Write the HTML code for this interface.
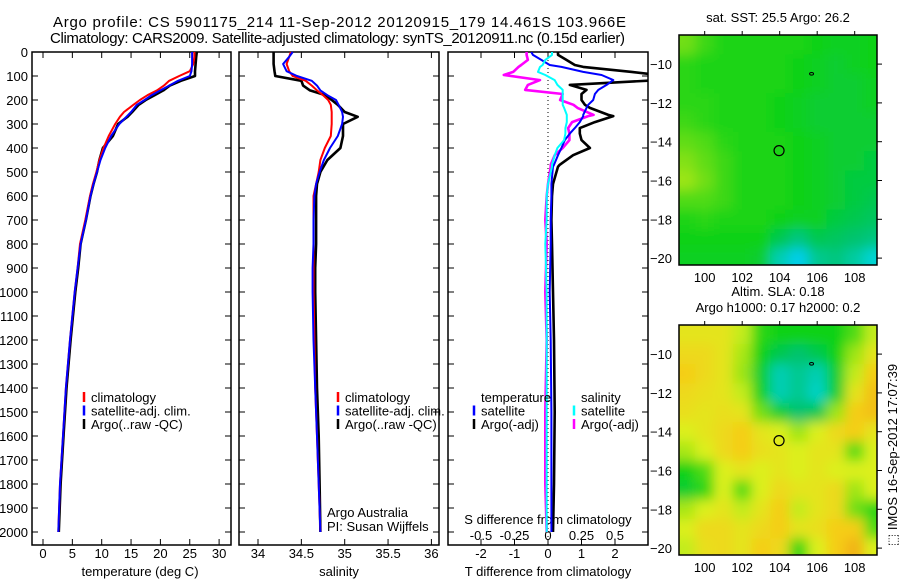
<!DOCTYPE html>
<html><head><meta charset="utf-8"><style>
html,body{margin:0;padding:0;background:#fff;}
svg{display:block;font-family:"Liberation Sans",sans-serif;}
</style></head><body>
<svg id="fig" width="900" height="580" viewBox="0 0 900 580" xmlns="http://www.w3.org/2000/svg">
<defs>
<filter id="blur" x="-5%" y="-5%" width="110%" height="110%"><feGaussianBlur stdDeviation="6"/></filter>
<clipPath id="clipM1"><rect x="679" y="35" width="198" height="230"/></clipPath>
<clipPath id="clipM2"><rect x="679" y="325" width="198" height="230"/></clipPath>
<clipPath id="clipP3"><rect x="448" y="52" width="200" height="493"/></clipPath>
</defs>
<text x="53" y="27" font-size="15" textLength="573">Argo profile: CS 5901175_214 11-Sep-2012 20120915_179 14.461S 103.966E</text>
<text x="50" y="43" font-size="15" textLength="575">Climatology: CARS2009. Satellite-adjusted climatology: synTS_20120911.nc (0.15d earlier)</text>
<g id="root"></g>
</svg>
<script>
// ---- shared depth levels ----
const depths = [0,20,50,80,100,120,140,160,180,200,220,250,270,300,350,400,450,500,550,600,700,800,900,1000,1200,1400,1600,1800,2000];
// temperature (deg C)
const tempClim = [25.8,25.8,25.6,25.0,23.2,21.5,20.6,19.4,17.8,16.5,15.4,13.8,13.1,12.3,11.2,10.3,9.6,9.1,8.5,8.0,7.2,6.3,5.9,5.4,4.6,3.9,3.4,2.9,2.6];
const tempSat  = [25.4,25.4,25.4,25.3,25.0,23.0,21.5,20.0,18.5,17.3,16.0,15.0,14.2,13.0,11.6,10.6,9.8,9.2,8.6,8.1,7.3,6.4,5.9,5.4,4.6,3.9,3.4,2.9,2.6];
const tempArgo = [26.2,26.1,26.0,25.9,25.9,23.5,21.6,20.5,19.0,17.5,16.3,15.2,14.4,12.8,11.9,10.2,9.6,9.2,8.6,8.1,7.3,6.4,6.0,5.5,4.7,4.0,3.5,3.0,2.7];
// salinity
const salClim = [34.38,34.36,34.33,34.36,34.40,34.55,34.62,34.68,34.75,34.81,34.84,34.85,34.85,34.85,34.84,34.77,34.72,34.70,34.67,34.64,34.64,34.64,34.64,34.64,34.65,34.66,34.68,34.70,34.72];
const salSat  = [34.40,34.36,34.29,34.33,34.45,34.62,34.68,34.72,34.80,34.90,34.93,34.97,34.98,34.97,34.92,34.83,34.76,34.71,34.67,34.65,34.64,34.64,34.63,34.63,34.64,34.66,34.68,34.70,34.72];
const salArgo = [34.18,34.18,34.18,34.19,34.20,34.50,34.52,34.60,34.78,34.85,34.92,35.00,35.15,34.98,34.98,34.95,34.80,34.72,34.68,34.67,34.67,34.67,34.66,34.66,34.67,34.68,34.70,34.71,34.72];
// differences from climatology
const diffDepths = [0,12,33,54,62,83,96,117,137,158,175,200,220,233,262,267,292,317,340,367,400,430,470,478,550,600,700,800,1000,1200,1500,1800,2000];
const dTsat  = [-0.5,-0.45,-0.2,0.05,0.4,1.05,1.6,1.95,1.75,1.5,1.4,1.35,1.2,1.15,1.05,1.05,0.95,0.8,0.65,0.5,0.4,0.3,0.18,0.15,0.1,0.1,0.08,0.08,0.05,0.08,0.1,0.1,0.1];
const dTargo = [0.3,0.3,0.55,0.8,1.05,2.5,3.3,3.3,0.65,1.15,1.0,1.0,1.1,1.25,1.8,1.95,1.4,0.95,0.95,1.0,1.25,0.75,0.35,0.3,0.15,0.12,0.1,0.12,0.15,0.18,0.2,0.18,0.15];
const dSsat  = [0.03,0.03,-0.02,-0.04,-0.06,-0.075,-0.02,0.05,0.07,0.11,0.11,0.11,0.11,0.12,0.14,0.14,0.14,0.13,0.13,0.12,0.07,0.05,0.03,0.03,0.0,-0.01,-0.01,-0.02,-0.01,-0.01,-0.01,-0.01,-0.01];
const dSargo = [-0.16,-0.16,-0.15,-0.2,-0.22,-0.26,-0.33,-0.06,-0.15,-0.17,0.11,0.09,0.19,0.22,0.34,0.3,0.18,0.15,0.16,0.16,0.11,0.05,0.02,0.02,0.0,-0.01,-0.02,-0.01,-0.02,-0.01,-0.02,-0.02,-0.01];
// axis ticks
const depthTicks = [0,100,200,300,400,500,600,700,800,900,1000,1100,1200,1300,1400,1500,1600,1700,1800,1900,2000];
const tempTicks = [0,5,10,15,20,25,30];
const salTicks = [34,34.5,35,35.5,36];
const tdiffTicks = [-2,-1,0,1,2];
const sdiffTicks = [-0.5,-0.25,0,0.25,0.5];
const sdiffLabels = ["-0.5","-0.25","0","0.25","0.5"];
const lonTicks = [100,102,104,106,108];
const latTicks = [-10,-12,-14,-16,-18,-20];
// maps: rows lat -9..-20, cols lon 99..109 (normalised colour value)
const mapLats = [-9,-10,-11,-12,-13,-14,-15,-16,-17,-18,-19,-20];
const mapLons = [99,100,101,102,103,104,105,106,107,108,109];
const sstGrid = [
[.52,.49,.47,.47,.47,.47,.47,.46,.45,.45,.46],
[.48,.47,.47,.47,.47,.47,.46,.45,.44,.45,.46],
[.48,.47,.47,.47,.47,.47,.46,.45,.44,.44,.45],
[.48,.48,.47,.47,.47,.46,.45,.44,.44,.44,.45],
[.49,.48,.47,.47,.47,.46,.45,.44,.44,.44,.44],
[.51,.50,.48,.47,.47,.47,.46,.45,.44,.44,.44],
[.53,.51,.49,.47,.47,.47,.46,.45,.44,.44,.43],
[.55,.52,.49,.47,.47,.47,.46,.45,.44,.43,.43],
[.50,.50,.49,.47,.47,.47,.46,.45,.44,.43,.42],
[.47,.48,.47,.47,.47,.46,.45,.45,.43,.42,.41],
[.46,.46,.46,.46,.46,.42,.39,.42,.41,.40,.39],
[.45,.45,.45,.45,.44,.36,.32,.38,.39,.37,.34]];
const slaGrid = [
[.62,.62,.62,.58,.48,.46,.46,.46,.46,.50,.58],
[.64,.64,.62,.56,.46,.42,.40,.42,.46,.55,.62],
[.66,.64,.62,.55,.44,.36,.38,.36,.44,.58,.66],
[.64,.63,.62,.58,.45,.36,.38,.35,.44,.62,.68],
[.63,.62,.63,.62,.52,.44,.40,.42,.55,.66,.68],
[.60,.62,.64,.66,.62,.60,.55,.60,.64,.66,.62],
[.56,.60,.64,.66,.63,.62,.60,.62,.62,.50,.60],
[.46,.50,.60,.62,.60,.62,.60,.62,.60,.60,.60],
[.44,.48,.60,.50,.60,.64,.62,.62,.64,.55,.60],
[.56,.60,.62,.58,.62,.66,.58,.62,.64,.52,.48],
[.60,.64,.64,.62,.64,.66,.62,.63,.66,.66,.50],
[.58,.63,.64,.62,.66,.64,.48,.60,.66,.70,.60]];

const NS="http://www.w3.org/2000/svg";
const root=document.getElementById('root');
const FS=13;
function mk(tag,attrs,parent){const e=document.createElementNS(NS,tag);for(const k in attrs)e.setAttribute(k,attrs[k]);(parent||root).appendChild(e);return e;}
function txt(s,x,y,size,anchor,parent){const t=mk('text',{x:x,y:y,'font-size':size,'text-anchor':anchor||'start'},parent);t.textContent=s;return t;}

const yTop=52, yBot=545;
function yD(d){return 52+0.24*d;}

function panel(name,x0,x1){
  const g=mk('g',{});
  
  
  const r=mk('rect',{x:x0,y:yTop,width:x1-x0,height:yBot-yTop,fill:'none',stroke:'#000','stroke-width':1.5},g);
  
  
  depthTicks.forEach(d=>{
    mk('line',{x1:x0,x2:x0+6,y1:yD(d),y2:yD(d),stroke:'#000'},g);
    mk('line',{x1:x1-6,x2:x1,y1:yD(d),y2:yD(d),stroke:'#000'},g);
  });
  return g;
}
function xTicks(g,ticks,labels,xf,ylab){
  ticks.forEach((v,i)=>{
    const x=xf(v);
    mk('line',{x1:x,x2:x,y1:yTop,y2:yTop+6,stroke:'#000'},g);
    mk('line',{x1:x,x2:x,y1:yBot-6,y2:yBot,stroke:'#000'},g);
    const t=txt(labels?labels[i]:String(v),x,ylab,FS,'middle',g);
    
    
  });
}
function line(g,ds,vals,xf,color,w,name){
  const p=ds.map((d,i)=>(i?'L':'M')+xf(vals[i]).toFixed(1)+','+yD(d).toFixed(1)).join('');
  const e=mk('path',{d:p,fill:'none',stroke:color,'stroke-width':w,'stroke-linejoin':'round'},g);
  
  
}
function legend(g,x,y,items){
  items.forEach((it,i)=>{
    mk('line',{x1:x,x2:x,y1:y+i*13.5-10,y2:y+i*13.5,stroke:it[1],'stroke-width':2.5},g);
    const t=txt(it[0],x+7,y+i*13.5,FS,'start',g);
    
    
  });
}

depthTicks.forEach(d=>{const t=txt(String(d),28,yD(d)+5,FS,'end');
  
  });

// ---- panel 1: temperature ----
const xT=v=>43+5.87*v;
const g1=panel('temperature-panel',32,231);
xTicks(g1,tempTicks,null,xT,558);
let t1=txt('temperature (deg C)',140,576,FS,'middle',g1);


line(g1,depths,tempArgo,xT,'#000',2.6,'temp-argo-line');
line(g1,depths,tempClim,xT,'#f00',2,'temp-climatology-line');
line(g1,depths,tempSat,xT,'#00f',2,'temp-satellite-line');
legend(g1,84,402,[['climatology','#f00'],['satellite-adj. clim.','#00f'],['Argo(..raw -QC)','#000']]);

// ---- panel 2: salinity ----
const xS=v=>258+86.7*(v-34);
const g2=panel('salinity-panel',239,439);
xTicks(g2,salTicks,['34','34.5','35','35.5','36'],xS,558);
let t2=txt('salinity',339,576,FS,'middle',g2);


line(g2,depths,salArgo,xS,'#000',2.6,'sal-argo-line');
line(g2,depths,salClim,xS,'#f00',2,'sal-climatology-line');
line(g2,depths,salSat,xS,'#00f',2,'sal-satellite-line');
legend(g2,338,402,[['climatology','#f00'],['satellite-adj. clim.','#00f'],['Argo(..raw -QC)','#000']]);
let a1=txt('Argo Australia',327,517,FS,'start',g2);

let a2=txt('PI: Susan Wijffels',327,531,FS,'start',g2);


// ---- panel 3: differences ----
const xDT=v=>548+33.5*v;
const xDS=v=>548+134*v;
const g3=panel('difference-panel',448,648);
tdiffTicks.forEach(v=>{const x=xDT(v);
  mk('line',{x1:x,x2:x,y1:yTop,y2:yTop+6,stroke:'#000'},g3);
  mk('line',{x1:x,x2:x,y1:yBot-6,y2:yBot,stroke:'#000'},g3);
  const t=txt(String(v),x,558,FS,'middle',g3);
  });
sdiffTicks.forEach((v,i)=>{const t=txt(sdiffLabels[i],xDS(v),540,FS,'middle',g3);
  });
let t3=txt('S difference from climatology',548,524,FS,'middle',g3);

let t4=txt('T difference from climatology',548,576,FS,'middle',g3);

mk('line',{x1:548,x2:548,y1:yTop,y2:yBot,stroke:'#000','stroke-dasharray':'1,3'},g3);
const g3c=mk('g',{'clip-path':'url(#clipP3)'},g3);
line(g3c,diffDepths,dTargo,xDT,'#000',2.6,'tdiff-argo-line');
line(g3c,diffDepths,dSargo,xDS,'#f0f',2.6,'sdiff-argo-line');
line(g3c,diffDepths,dTsat,xDT,'#00f',2,'tdiff-satellite-line');
line(g3c,diffDepths,dSsat,xDS,'#0ff',2,'sdiff-satellite-line');
let l1=txt('temperature',481,402,FS,'start',g3);
let l2=txt('salinity',581,402,FS,'start',g3);
legend(g3,474,415.5,[['satellite','#00f'],['Argo(-adj)','#000']]);
legend(g3,574,415.5,[['satellite','#0ff'],['Argo(-adj)','#f0f']]);

// ---- maps ----
const stops=[[0.28,[0,170,255]],[0.33,[0,215,230]],[0.40,[0,195,110]],[0.46,[10,210,20]],[0.53,[130,225,20]],[0.60,[220,240,30]],[0.66,[245,205,25]],[0.72,[240,165,20]],[0.80,[235,120,20]]];
function cmap(v){
  if(v<=stops[0][0])return stops[0][1];
  for(let i=1;i<stops.length;i++){if(v<=stops[i][0]){const a=stops[i-1],b=stops[i];const f=(v-a[0])/(b[0]-a[0]);return a[1].map((c,k)=>Math.round(c+(b[1][k]-c)*f));}}
  return stops[stops.length-1][1];
}
const lonX=lon=>679+(lon-98.63)*18.75;
function map(name,top,grid,title){
  const latY=lat=>top+(-8.5-lat)*19.4;
  const g=mk('g',{});
  
  
  const inner=mk('g',{'clip-path':'url(#clip'+(top<100?'M1':'M2')+')'},g);
  const c0=cmap(grid[5][5]);
  mk('rect',{x:679,y:top,width:198,height:230,fill:'rgb('+c0+')'},inner);
  const cells=mk('g',{filter:'url(#blur)'},inner);
  grid.forEach((row,i)=>row.forEach((v,j)=>{
    const lat=mapLats[i],lon=mapLons[j];
    let x0=lonX(lon-0.5),x1=lonX(lon+0.5),y0=latY(lat+0.5),y1=latY(lat-0.5);
    if(j===0)x0-=20; if(j===row.length-1)x1+=20; if(i===0)y0-=20; if(i===grid.length-1)y1+=20;
    const r=mk('rect',{x:x0,y:y0,width:x1-x0+0.5,height:y1-y0+0.5,fill:'rgb('+cmap(v)+')'},cells);
    
    
  }));
  mk('rect',{x:679,y:top,width:198,height:230,fill:'none',stroke:'#000','stroke-width':1.5},g);
  lonTicks.forEach(l=>{const x=lonX(l);
    mk('line',{x1:x,x2:x,y1:top-4,y2:top,stroke:'#000'},g);
    const t=txt(String(l),x,top+247,FS,'middle',g);
    });
  latTicks.forEach(l=>{const y=latY(l);
    mk('line',{x1:877,x2:882,y1:y,y2:y,stroke:'#000'},g);
    const t=txt(String(l).replace('-','\u2212'),672,y+5,FS,'end',g);
    });
  const c=mk('circle',{cx:lonX(103.966),cy:latY(-14.461),r:5,fill:'none',stroke:'#000','stroke-width':1.2},g);
  
  mk('ellipse',{cx:lonX(105.7),cy:latY(-10.5),rx:2,ry:1.3,fill:'none',stroke:'#000','stroke-width':1},g);
  title.forEach((s,i)=>{const t=txt(s,778,top-13-(title.length-1-i)*16,FS,'middle',g);
    });
}
map('sst-map',35,sstGrid,['sat. SST: 25.5 Argo: 26.2']);
map('sla-map',325,slaGrid,['Altim. SLA: 0.18','Argo h1000: 0.17 h2000: 0.2']);

const st=txt('\u2b1a IMOS 16-Sep-2012 17:07:39',0,0,FS,'middle');
st.setAttribute('transform','translate(897,455) rotate(-90)');


</script>
</body></html>
